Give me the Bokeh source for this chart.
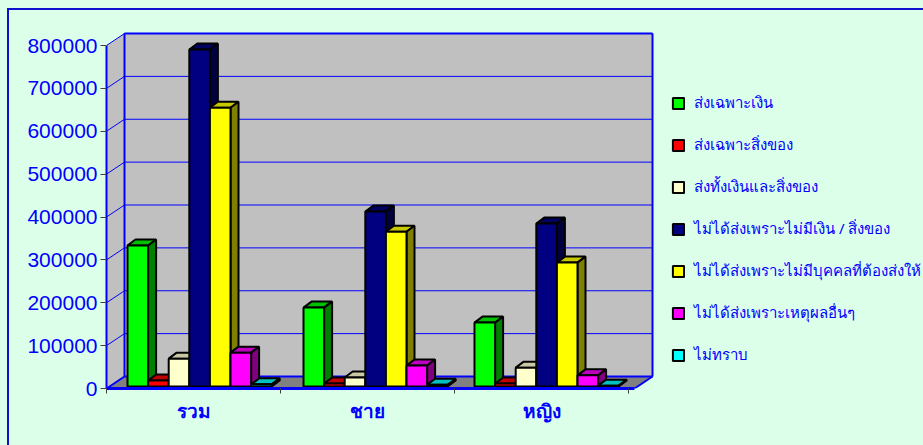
from bokeh.plotting import figure
from bokeh.models import FixedTicker, Legend, LegendItem, LinearAxis
from bokeh.embed import file_html
from bokeh.resources import INLINE

categories = ["รวม", "ชาย", "หญิง"]
series_names = ["ส่งเฉพาะเงิน", "ส่งเฉพาะสิ่งของ", "ส่งทั้งเงินและสิ่งของ",
                "ไม่ได้ส่งเพราะไม่มีเงิน / สิ่งของ",
                "ไม่ได้ส่งเพราะไม่มีบุคคลที่ต้องส่งให้",
                "ไม่ได้ส่งเพราะเหตุผลอื่นๆ", "ไม่ทราบ"]
money_only = [329000, 184000, 149000]
goods_only = [14000, 7000, 7000]
both = [65000, 21000, 44000]
no_money = [786000, 408000, 380000]
no_person = [650000, 361000, 289000]
other_reason = [79000, 49000, 26000]
unknown = [5000, 4000, 2000]
y_ticks = [0, 100000, 200000, 300000, 400000, 500000, 600000, 700000, 800000]

values = [money_only, goods_only, both, no_money, no_person, other_reason, unknown]
front = ["#00ff00", "#ff0000", "#ffffcc", "#000080", "#ffff00", "#ff00ff", "#00ffff"]
top = ["#00c000", "#c00000", "#c8c8a4", "#000060", "#c8c800", "#c000c0", "#00c0c0"]
side = ["#008000", "#800000", "#808066", "#000040", "#808000", "#800080", "#008080"]

BG = "#dcffea"
BLUE = "#0000ff"
W, H = 923, 445
LEFT, BOTTOM = 106, 57
PX_X = 174.0                  # pixels per category
PX_Y = 343.0 / 800000         # pixels per value unit
FRAME_W = W - LEFT
FRAME_H = H - BOTTOM

def dx(px):
    return px / PX_X

def dy(px):
    return px / PX_Y

p = figure(width=W, height=H, output_backend="svg", toolbar_location=None,
           x_range=(0, dx(FRAME_W)), y_range=(0, dy(FRAME_H)),
           x_axis_type=None, y_axis_type=None,
           min_border_left=LEFT, min_border_bottom=BOTTOM, min_border_top=0, min_border_right=0,
           background_fill_color=BG, border_fill_color=BG, outline_line_color=None)
p.grid.visible = False

x_end = dx(528)
wx, wy = dx(18), dy(12)
y_max = y_ticks[-1]

# walls and floor
p.patch([0, 0, wx, wx], [0, y_max, y_max + wy, wy], fill_color="#c0c0c0", line_color=None)
p.quad(left=wx, right=x_end + wx, bottom=wy, top=y_max + wy, fill_color="#c0c0c0", line_color=None)
p.patch([0, x_end, x_end + wx, wx], [0, 0, wy, wy], fill_color="#808080", line_color=None)

for v in y_ticks[1:]:
    p.line([wx, x_end + wx], [v + wy, v + wy], line_color=BLUE, line_width=1)
for v in y_ticks[1:]:
    p.line([0, wx], [v, v + wy], line_color=BLUE, line_width=1)
p.line([wx, wx], [wy, y_max + wy], line_color=BLUE, line_width=2)
p.line([x_end + wx, x_end + wx], [wy, y_max + wy], line_color=BLUE, line_width=2)
p.line([wx, x_end + wx], [wy, wy], line_color=BLUE, line_width=2)
p.line([wx, x_end + wx], [y_max + wy, y_max + wy], line_color=BLUE, line_width=2)
p.line([0, wx], [0, wy], line_color=BLUE, line_width=2)
p.line([x_end, x_end + wx], [0, wy], line_color=BLUE, line_width=2)

# 3D bars
bw = dx(20.6)
group_start = [dx(21), dx(23), dx(20)]
ddx, ddy = dx(8), dy(6)
base = dy(2)
first_front = {}
for c in range(len(categories)):
    for s in range(len(values)):
        x0 = c + group_start[c] + s * bw
        x1 = x0 + bw
        y1 = base + values[s][c]
        p.patch([x0, x1, x1 + ddx, x0 + ddx], [y1, y1, y1 + ddy, y1 + ddy],
                fill_color=top[s], line_color="black", line_width=2)
        p.patch([x1, x1 + ddx, x1 + ddx, x1], [base, base + ddy, y1 + ddy, y1],
                fill_color=side[s], line_color="black", line_width=2)
        r = p.quad(left=x0, right=x1, bottom=base, top=y1,
                   fill_color=front[s], line_color="black", line_width=2)
        if s not in first_front:
            first_front[s] = r

# axes
yaxis = LinearAxis(ticker=FixedTicker(ticks=y_ticks), bounds=(0, y_max))
yaxis.axis_line_color = BLUE
yaxis.axis_line_width = 2
yaxis.major_tick_line_color = "#404040"
yaxis.major_tick_in = 0
yaxis.major_tick_out = 6
yaxis.minor_tick_line_color = None
yaxis.major_label_text_color = BLUE
yaxis.major_label_text_font = "Liberation Sans"
yaxis.major_label_text_font_size = "21px"
yaxis.major_label_standoff = 3
yaxis.formatter.use_scientific = False
p.add_layout(yaxis, "left")

centers = [i + 0.5 for i in range(len(categories))]
bounds = [float(i) for i in range(len(categories) + 1)]
xaxis = LinearAxis(ticker=FixedTicker(ticks=centers, minor_ticks=bounds), bounds=(0, x_end))
xaxis.major_label_overrides = {c: n for c, n in zip(centers, categories)}
xaxis.axis_line_color = BLUE
xaxis.axis_line_width = 3
xaxis.major_tick_line_color = None
xaxis.major_tick_in = 0
xaxis.major_tick_out = 0
xaxis.minor_tick_line_color = "#404040"
xaxis.minor_tick_in = 0
xaxis.minor_tick_out = 5
xaxis.major_label_text_color = BLUE
xaxis.major_label_text_font = "Noto Sans"
xaxis.major_label_text_font_size = "19px"
xaxis.major_label_text_font_style = "bold"
xaxis.major_label_standoff = 4
p.add_layout(xaxis, "below")

legend = Legend(items=[LegendItem(label=n, renderers=[first_front[i]]) for i, n in enumerate(series_names)],
                location=(565, 21), orientation="vertical",
                background_fill_alpha=0, border_line_color=None,
                padding=0, margin=0, spacing=18, glyph_width=14, glyph_height=14,
                label_standoff=9, label_height=14,
                label_text_color=BLUE, label_text_font="Noto Sans", label_text_font_size="15px")
p.add_layout(legend, "center")

html = file_html(p, INLINE)
# page colour, and the chart area's outer frame that runs off the page at right and bottom
style = ("<style>html,body{background:%s;overflow:hidden}"
         "body::after{content:'';position:fixed;left:7px;top:8px;width:2000px;height:2000px;"
         "border:2px solid #1010d0;pointer-events:none}</style>") % BG
html = html.replace("<head>", "<head>" + style, 1)
open("out.html", "w").write(html)
